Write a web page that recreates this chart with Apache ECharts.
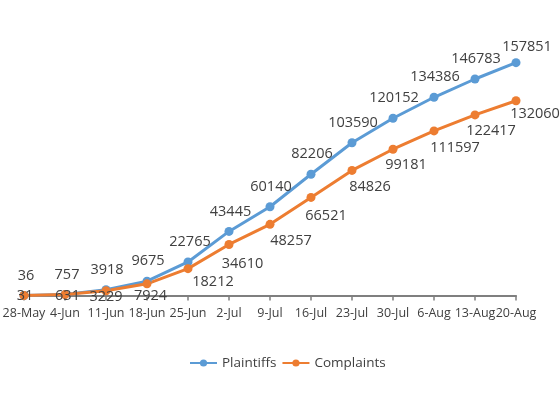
<!DOCTYPE html>
<html>
<head>
<meta charset="utf-8">
<script src="https://cdn.jsdelivr.net/npm/echarts@6/dist/echarts.min.js"></script>
<style>
html,body{margin:0;padding:0;background:#fff;}
#chart{width:560px;height:393px;}
</style>
</head>
<body>
<div id="chart"></div>
<script>
const categories = ['28-May','4-Jun','11-Jun','18-Jun','25-Jun','2-Jul','9-Jul','16-Jul','23-Jul','30-Jul','6-Aug','13-Aug','20-Aug'];
const plaintiffs = [36, 757, 3918, 9675, 22765, 43445, 60140, 82206, 103590, 120152, 134386, 146783, 157851];
const complaints = [31, 631, 3229, 7924, 18212, 34610, 48257, 66521, 84826, 99181, 111597, 122417, 132060];

// label placement (styling only)
const plaintiffLabelOffsets = [[2,-20],[2,-20],[1,-20],[1,-20],[2,-20],[1.5,-20],[1,-20],[1,-20],[1,-20],[1,-20],[1,-20],[1,-20],[11,-16]];
const complaintLabelOffsets = [[1,0.5],[2.5,1.5],[0,6],[3.5,12],[25,13.5],[13.5,19.5],[21,17],[15,18],[18,16.3],[13,16],[21,17],[16,16],[19,13.5]];

const FONT = '"Open Sans", sans-serif';
const TXT = '#404040';

function build(values, offsets) {
  return values.map((v, i) => ({ value: v, label: { offset: offsets[i] } }));
}

const chart = echarts.init(document.getElementById('chart'), null, { renderer: 'canvas' });
chart.setOption({
  backgroundColor: '#ffffff',
  animation: false,
  textStyle: { fontFamily: FONT },
  grid: { left: 24, right: 44, top: 30, bottom: 97.5, containLabel: false, outerBoundsMode: 'none' },
  legend: {
    data: ['Plaintiffs', 'Complaints'],
    left: 184, top: 351,
    itemWidth: 27, itemHeight: 9, itemGap: 5,
    textStyle: { fontFamily: FONT, fontSize: 13.5, color: TXT }
  },
  xAxis: {
    type: 'category',
    data: categories,
    boundaryGap: false,
    axisLine: { lineStyle: { color: '#7f7f7f', width: 2 } },
    axisTick: { show: true, length: 5, interval: 0, lineStyle: { color: '#7f7f7f', width: 1.5 } },
    axisLabel: { interval: 0, fontFamily: FONT, fontSize: 12.5, color: TXT, margin: 11 },
    splitLine: { show: false }
  },
  yAxis: {
    type: 'value', min: 0, max: 180000, show: false,
    splitLine: { show: false }
  },
  series: [
    {
      name: 'Plaintiffs', type: 'line',
      data: build(plaintiffs, plaintiffLabelOffsets),
      symbol: 'circle', symbolSize: 9,
      itemStyle: { color: '#5B9BD5' },
      lineStyle: { color: '#5B9BD5', width: 3 },
      label: { show: true, position: 'inside', fontFamily: FONT, fontSize: 14.5, color: TXT }
    },
    {
      name: 'Complaints', type: 'line',
      data: build(complaints, complaintLabelOffsets),
      symbol: 'circle', symbolSize: 9,
      itemStyle: { color: '#ED7D31' },
      lineStyle: { color: '#ED7D31', width: 3 },
      label: { show: true, position: 'inside', fontFamily: FONT, fontSize: 14.5, color: TXT }
    }
  ]
});
</script>
</body>
</html>
